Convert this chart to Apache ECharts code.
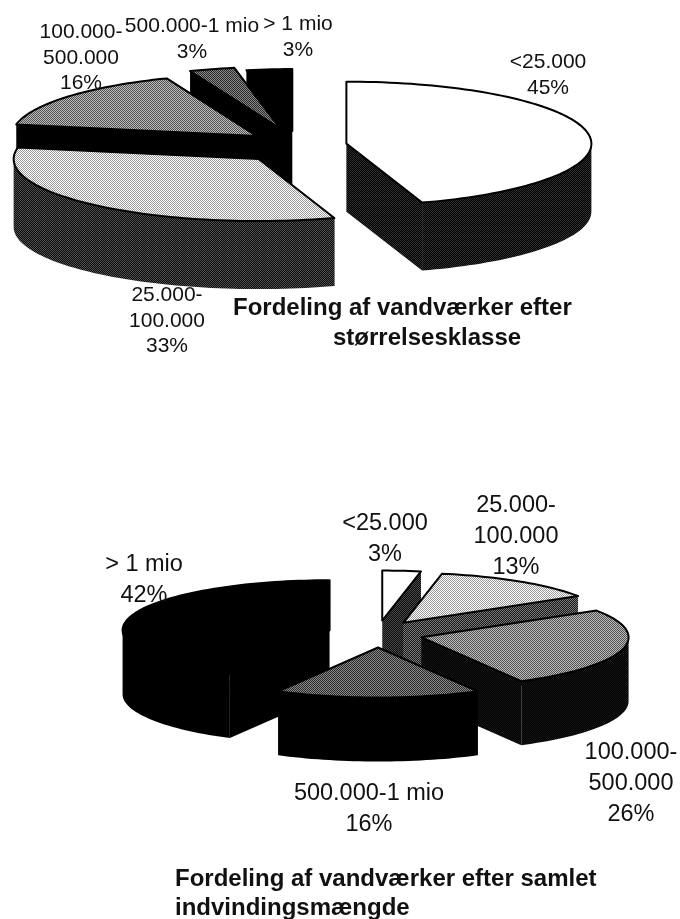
<!DOCTYPE html>
<html>
<head>
<meta charset="utf-8">
<style>html,body{margin:0;padding:0;background:#fff}#c{width:680px;height:919px}</style>
<script src="https://cdn.jsdelivr.net/npm/echarts@6/dist/echarts.min.js"></script>
</head>
<body>
<div id="c"></div>
<script>
// ---- data ----
const categories = ['<25.000', '25.000-\n100.000', '100.000-\n500.000', '500.000-1 mio', '> 1 mio'];
const sharesBySize = [45, 33, 16, 3, 3];
const sharesByVolume = [3, 13, 26, 16, 42];
const titleSize = 'Fordeling af vandværker efter\n               størrelsesklasse';
const titleVolume = 'Fordeling af vandværker efter samlet\nindvindingsmængde';

// ---- layout ----
const pieSize = { cx: 297, cy: 146, rx: 245, ry: 62, depth: 68, explode: [50, 58, 52, 60, 50], fontSize: 21, lineHeight: 25.5,
  labels: [[548, 75], [167, 321], [81, 58], [192, 39], [298, 37]] };
const pieVolume = { cx: 378, cy: 634, rx: 207, ry: 50, depth: 64, explode: [45, 45, 45, 45, 50], fontSize: 23.5, lineHeight: 31,
  labels: [[385, 539], [516, 537], [631, 784], [369, 809], [144, 580]] };

// ---- styles ----
function pattern(a, b) {
  const s = document.createElement('canvas');
  s.width = s.height = 2;
  const g = s.getContext('2d');
  g.fillStyle = a; g.fillRect(0, 0, 2, 2);
  g.fillStyle = b; g.fillRect(0, 0, 1, 1); g.fillRect(1, 1, 1, 1);
  return { image: s, repeat: 'repeat' };
}
const topFills = ['#ffffff', pattern('#ffffff', '#9a9a9a'), pattern('#bdbdbd', '#505050'), pattern('#888888', '#2a2a2a'), '#000000'];
const wallFills = {
  size: [pattern('#000000', '#2e2e2e'), pattern('#0a0a0a', '#505050'), '#000000', '#000000', '#000000'],
  volume: [pattern('#0a0a0a', '#4a4a4a'), pattern('#1a1a1a', '#777777'), pattern('#000000', '#161616'), '#000000', '#000000']
};

function pieRender(values, cfg, walls) {
  const total = values.reduce((a, b) => a + b, 0);
  const starts = [];
  values.reduce((acc, v, i) => { starts[i] = acc; return acc + v; }, 0);
  const rad = v => v / total * Math.PI * 2;
  const mids = values.map((v, i) => rad(starts[i] + v / 2));
  const ranks = mids.map(m => Math.abs(m - Math.PI));
  const sorted = ranks.slice().sort((a, b) => b - a);
  return function (params, api) {
    const i = params.dataIndex;
    const v = api.value(0);
    const a0 = rad(starts[i]), a1 = rad(starts[i] + v);
    const d = cfg.explode[i];
    const cx = cfg.cx + d * Math.sin(mids[i]);
    const cy = cfg.cy - d * 0.3 * Math.cos(mids[i]);
    const pt = (t, dz) => [cx + cfg.rx * Math.sin(t), cy - cfg.ry * Math.cos(t) + (dz || 0)];
    const sweep = (from, to) => {
      const n = Math.max(3, Math.ceil((to - from) / 0.03)), out = [];
      for (let k = 0; k <= n; k++) out.push(from + (to - from) * k / n);
      return out;
    };
    const z = 10 * (sorted.indexOf(ranks[i]) + 1);
    const top = sweep(a0, a1).map(t => pt(t));
    const fillW = walls[i];
    const wall = (points, z2) => ({ type: 'polygon', z2, shape: { points }, style: { fill: fillW } });
    const c = [cx, cy], cb = [cx, cy + cfg.depth];
    const pct = Math.round(v / total * 100) + '%';
    const children = [
      wall([c, pt(a0), pt(a0, cfg.depth), cb], z),
      wall([c, pt(a1), pt(a1, cfg.depth), cb], z + 1)
    ];
    // outer wall: only the part of the rim that faces the viewer
    const f0 = Math.max(a0, Math.PI / 2), f1 = Math.min(a1, Math.PI * 1.5);
    if (f1 > f0) {
      const ts = sweep(f0, f1);
      children.push(wall(ts.map(t => pt(t)).concat(ts.slice().reverse().map(t => pt(t, cfg.depth))), z + 2));
    }
    children.push(
      { type: 'polygon', z2: z + 3, shape: { points: [c].concat(top) },
        style: { fill: topFills[i], stroke: '#000', lineWidth: 2, lineJoin: 'round' } },
      { type: 'text', z2: 200, x: cfg.labels[i][0], y: cfg.labels[i][1],
        style: { text: categories[i] + '\n' + pct, fill: '#111', align: 'center', verticalAlign: 'middle',
          font: cfg.fontSize + 'px "Liberation Sans"', lineHeight: cfg.lineHeight } }
    );
    return { type: 'group', children };
  };
}

const chart = echarts.init(document.getElementById('c'), null, { renderer: 'canvas' });
chart.setOption({
  backgroundColor: '#ffffff',
  animation: false,
  title: [
    { text: titleSize, left: 233, top: 293, padding: 0, textStyle: { fontFamily: 'Liberation Sans', fontWeight: 'bold', fontSize: 24, lineHeight: 30, color: '#111' } },
    { text: titleVolume, left: 175, top: 865, padding: 0, textStyle: { fontFamily: 'Liberation Sans', fontWeight: 'bold', fontSize: 24, lineHeight: 29, color: '#111' } }
  ],
  series: [
    { type: 'custom', coordinateSystem: 'none', silent: true, data: sharesBySize.map(v => [v]),
      renderItem: pieRender(sharesBySize, pieSize, wallFills.size) },
    { type: 'custom', coordinateSystem: 'none', silent: true, data: sharesByVolume.map(v => [v]),
      renderItem: pieRender(sharesByVolume, pieVolume, wallFills.volume) }
  ]
});
</script>
</body>
</html>
